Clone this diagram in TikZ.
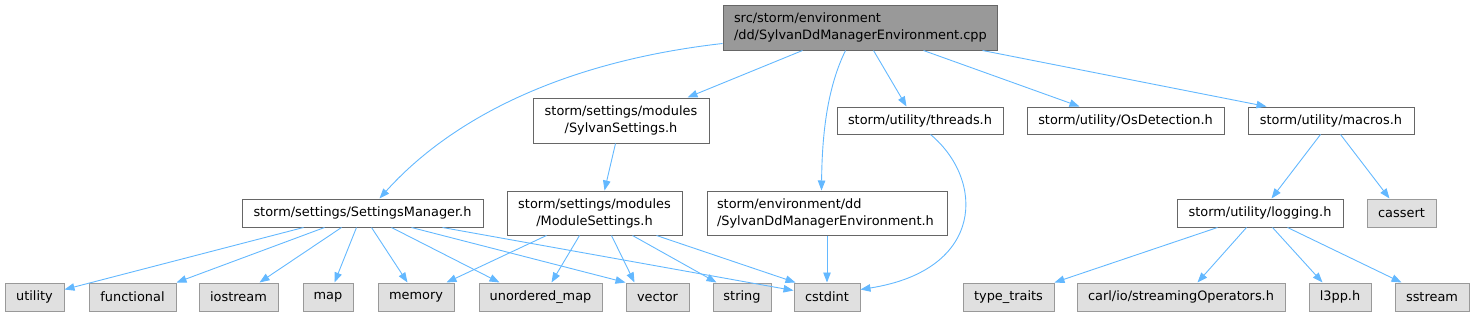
\documentclass[tikz,border=0pt]{standalone}
\usepackage{fontspec}
\setmainfont{DejaVu Sans}
\usetikzlibrary{arrows.meta}
\definecolor{edgec}{HTML}{63B8FF}
\definecolor{bordc}{HTML}{666666}
\definecolor{gbord}{HTML}{999999}
\definecolor{gfill}{HTML}{E0E0E0}
\definecolor{rootfill}{HTML}{999999}
\tikzset{
  base/.style={draw, rectangle, inner sep=0pt, line width=1pt, font=\fontsize{12.9}{17}\selectfont, text=black},
  wbox/.style={base, draw=bordc, fill=white},
  gbox/.style={base, draw=gbord, fill=gfill, minimum height=28pt},
  rbox/.style={base, draw=bordc, fill=rootfill},
  edge/.style={draw=edgec, line width=0.9pt, -{Triangle[length=10pt,width=7.5pt]}}
}
\begin{document}
\begin{tikzpicture}[x=1pt,y=-1pt]
\useasboundingbox (0,0) rectangle (1475,316);
% top row
\node[rbox, minimum width=274pt, minimum height=45pt, text width=252pt, align=left] (root) at (860,27.5) {src/storm/environment\\/dd/SylvanDdManagerEnvironment.cpp};
% middle row
\node[wbox, minimum width=176pt, minimum height=45pt, align=center] (ss) at (621,120.5) {storm/settings/modules\\/SylvanSettings.h};
\node[wbox, minimum width=166pt, minimum height=27pt] (th) at (920,120.5) {storm/utility/threads.h};
\node[wbox, minimum width=197pt, minimum height=27pt] (os) at (1125.5,120.5) {storm/utility/OsDetection.h};
\node[wbox, minimum width=166pt, minimum height=27pt] (mac) at (1331,120.5) {storm/utility/macros.h};
% third row
\node[wbox, minimum width=241pt, minimum height=28pt] (sm) at (362.5,213) {storm/settings/SettingsManager.h};
\node[wbox, minimum width=175pt, minimum height=44pt, align=center] (ms) at (594.5,213) {storm/settings/modules\\/ModuleSettings.h};
\node[wbox, minimum width=240pt, minimum height=44pt, text width=220pt, align=left] (sde) at (827,213) {storm/environment/dd\\/SylvanDdManagerEnvironment.h};
\node[wbox, minimum width=166pt, minimum height=28pt] (log) at (1260,213) {storm/utility/logging.h};
\node[gbox, minimum width=69pt] (cas) at (1401.5,213) {cassert};
% bottom row
\node[gbox, minimum width=59pt] (util) at (34.5,297) {utility};
\node[gbox, minimum width=87pt] (func) at (132.5,297) {functional};
\node[gbox, minimum width=79pt] (ios) at (238.5,297) {iostream};
\node[gbox, minimum width=50pt] (map) at (328,297) {map};
\node[gbox, minimum width=76pt] (mem) at (416,297) {memory};
\node[gbox, minimum width=123pt] (umap) at (540.5,297) {unordered\_map};
\node[gbox, minimum width=63pt] (vec) at (657.5,297) {vector};
\node[gbox, minimum width=58pt] (str) at (742,297) {string};
\node[gbox, minimum width=66pt] (cst) at (827,297) {cstdint};
\node[gbox, minimum width=91pt] (tt) at (1008.5,297) {type\_traits};
\node[gbox, minimum width=208pt] (carl) at (1181,297) {carl/io/streamingOperators.h};
\node[gbox, minimum width=62pt] (l3pp) at (1340,297) {l3pp.h};
\node[gbox, minimum width=74pt] (sst) at (1432,297) {sstream};
% edges from root
\draw[edge] ([yshift=7pt]root.south west) .. controls (560,62) and (450,120) .. ([xshift=138pt]sm.north west);
\draw[edge] ([xshift=80pt]root.south west) -- ([xshift=155pt]ss.north west);
\draw[edge] ([xshift=123pt]root.south west) .. controls (826,90) and (822,140) .. ([xshift=115pt]sde.north west);
\draw[edge] ([xshift=151pt]root.south west) -- ([xshift=70pt]th.north west);
\draw[edge] ([xshift=201pt]root.south west) -- ([xshift=53pt]os.north west);
\draw[edge] ([xshift=260pt]root.south west) -- ([xshift=19pt]mac.north west);
% middle
\draw[edge] ([xshift=83pt]ss.south west) -- ([xshift=98pt]ms.north west);
\draw[edge] ([xshift=94pt]th.south west) .. controls (985,180) and (985,270) .. ([yshift=-7pt]cst.north east);
\draw[edge] (sde.south) -- (cst.north);
\draw[edge] ([xshift=73pt]mac.south west) -- ([xshift=95pt]log.north west);
\draw[edge] ([xshift=93pt]mac.south west) -- ([xshift=23pt]cas.north west);
% logging
\draw[edge] ([xshift=41pt]log.south west) -- (tt.north east);
\draw[edge] ([xshift=70pt]log.south west) -- ([xshift=121pt]carl.north west);
\draw[edge] ([xshift=96pt]log.south west) -- ([xshift=14pt]l3pp.north west);
\draw[edge] ([xshift=111pt]log.south west) -- ([xshift=7pt]sst.north west);
% settings manager
\draw[edge] ([xshift=62pt]sm.south west) -- ([yshift=-7pt]util.north east);
\draw[edge] ([xshift=83pt]sm.south west) -- (func.north east);
\draw[edge] ([xshift=100pt]sm.south west) -- ([xshift=61pt]ios.north west);
\draw[edge] ([xshift=115pt]sm.south west) -- ([xshift=32pt]map.north west);
\draw[edge] ([xshift=130pt]sm.south west) -- ([xshift=30pt]mem.north west);
\draw[edge] ([xshift=150pt]sm.south west) -- ([xshift=21pt]umap.north west);
\draw[edge] ([xshift=170pt]sm.south west) -- (vec.north west);
\draw[edge] ([xshift=201pt]sm.south west) -- ([yshift=-8pt]cst.north west);
% module settings
\draw[edge] ([xshift=40pt]ms.south west) -- ([xshift=69pt]mem.north west);
\draw[edge] ([xshift=73pt]ms.south west) -- ([xshift=73pt]umap.north west);
\draw[edge] ([xshift=105pt]ms.south west) -- ([xshift=9pt]vec.north west);
\draw[edge] ([xshift=126pt]ms.south west) -- ([xshift=4pt]str.north west);
\draw[edge] ([xshift=150pt]ms.south west) -- ([xshift=2pt]cst.north west);
\end{tikzpicture}
\end{document}
